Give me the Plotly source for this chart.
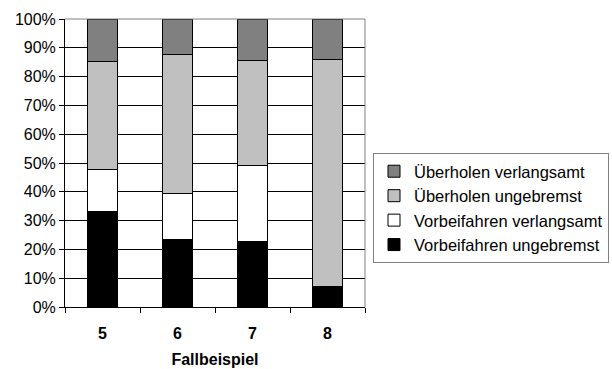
import plotly.graph_objects as go

categories = ["5", "6", "7", "8"]
vorbei_ungebremst = [33.3, 23.3, 22.6, 7.1]
vorbei_verlangsamt = [14.5, 16.0, 26.4, 0.0]
ueber_ungebremst = [37.5, 48.5, 36.5, 78.8]
ueber_verlangsamt = [14.7, 12.2, 14.5, 14.1]
y_ticks = list(range(0, 101, 10))
y_labels = [f"{v}%" for v in y_ticks]

series = [
    ("Vorbeifahren ungebremst", vorbei_ungebremst, "#000000"),
    ("Vorbeifahren verlangsamt", vorbei_verlangsamt, "#ffffff"),
    ("Überholen ungebremst", ueber_ungebremst, "#c0c0c0"),
    ("Überholen verlangsamt", ueber_verlangsamt, "#808080"),
]

fig = go.Figure()
for name, vals, col in series:
    fig.add_trace(go.Bar(
        x=categories, y=vals, name=name,
        marker=dict(color=col, line=dict(color="#000000", width=1)),
    ))

FONT = "Liberation Sans, Arial, sans-serif"
fig.update_layout(
    width=612, height=369,
    barmode="stack", bargap=0.587,
    margin=dict(l=65, r=247, t=19, b=62),
    paper_bgcolor="white", plot_bgcolor="white",
    font=dict(family=FONT, size=16, color="#000000"),
    showlegend=True,
    legend=dict(
        traceorder="reversed",
        x=373/612, xanchor="left",
        y=1 - 208/369, yanchor="middle",
        xref="container", yref="container",
        bordercolor="#808080", borderwidth=1,
        font=dict(family=FONT, size=16.5, color="#000000"),
        itemwidth=30,
        tracegroupgap=0,
    ),
    xaxis=dict(
        type="category",
        showline=True, linecolor="#000000", linewidth=1,
        ticks="outside", ticklen=5, tickcolor="#000000",
        tickson="boundaries",
        tickfont=dict(family=FONT, size=16, color="#000000", weight="bold"),
        ticklabelstandoff=12,
        title=dict(text="<b>Fallbeispiel</b>", font=dict(family=FONT, size=16), standoff=12),
        showgrid=False,
        automargin=False,
    ),
    yaxis=dict(
        range=[0, 100],
        tickvals=y_ticks, ticktext=y_labels,
        showline=True, linecolor="#000000", linewidth=1,
        ticks="outside", ticklen=5, tickcolor="#000000",
        showgrid=True, gridcolor="#000000", gridwidth=1,
        tickfont=dict(family=FONT, size=16, color="#000000"),
        zeroline=False,
        automargin=False,
    ),
    shapes=[
        dict(type="line", xref="paper", yref="paper", x0=0, x1=1, y0=1, y1=1,
             line=dict(color="#808080", width=1)),
        dict(type="line", xref="paper", yref="paper", x0=1, x1=1, y0=0, y1=1,
             line=dict(color="#808080", width=1)),
    ],
)

fig.write_html("out.html")
